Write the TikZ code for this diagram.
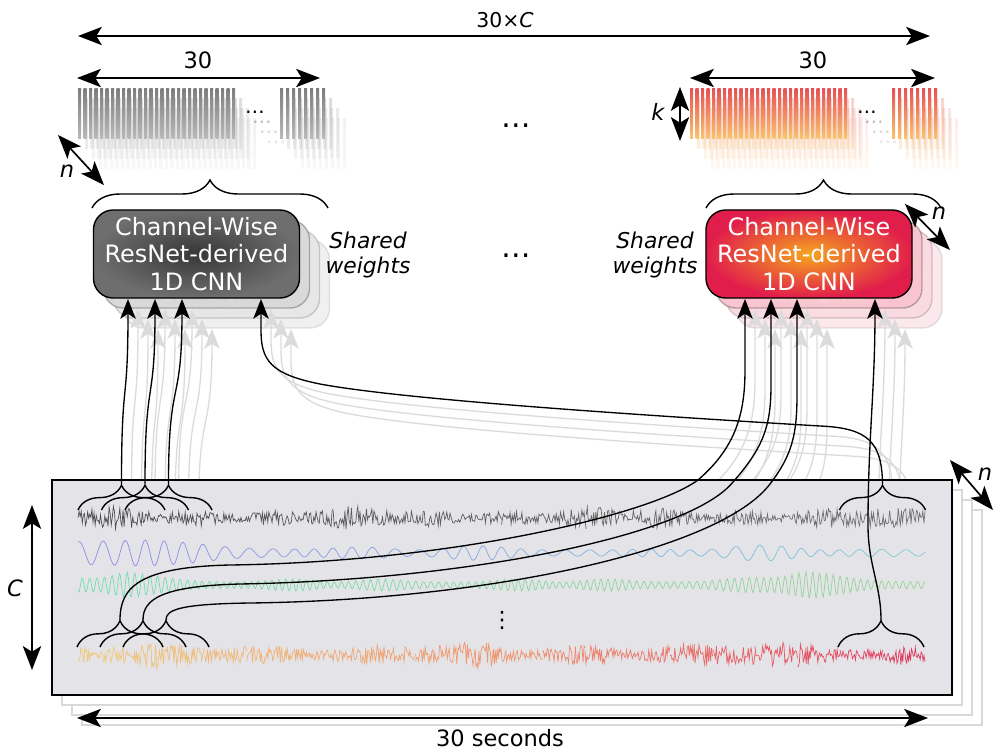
\documentclass[tikz,border=0pt]{standalone}
\usepackage{fontspec}
\setmainfont{DejaVu Sans}[ItalicFont={DejaVu Sans Oblique}]
\usetikzlibrary{arrows.meta,decorations.pathreplacing}
\definecolor{panelbg}{RGB}{228,228,232}
\definecolor{cnnred}{RGB}{225,30,75}
\definecolor{cnnorg}{RGB}{245,165,30}
\definecolor{cnndark}{RGB}{55,55,55}
\definecolor{cnngray}{RGB}{110,110,110}
\definecolor{barred}{RGB}{230,80,85}
\definecolor{barorg}{RGB}{248,195,110}
\definecolor{bardark}{RGB}{125,125,125}
\definecolor{barlight}{RGB}{185,185,185}
\definecolor{siggray}{RGB}{80,80,80}
\definecolor{siggrey}{RGB}{115,115,115}
\definecolor{sigblue}{RGB}{140,140,232}
\definecolor{sigteal}{RGB}{125,200,212}
\definecolor{sigmint}{RGB}{110,222,172}
\definecolor{siggreen}{RGB}{150,212,145}
\definecolor{sigyel}{RGB}{240,200,125}
\definecolor{sigorg}{RGB}{240,150,110}
\definecolor{sigred}{RGB}{225,55,95}
\tikzset{
  dim/.style={{Stealth[length=17pt,width=13pt,inset=4pt]}-{Stealth[length=17pt,width=13pt,inset=4pt]},line width=1.2pt},
  feed/.style={-{Stealth[length=14pt,width=11pt,inset=3.5pt]},line width=.95pt},
  ghost/.style={feed,draw=gray!28},
  brc/.style={decorate,decoration={brace,amplitude=#1},line width=1pt},
  cnnbox/.style={rounded corners=14pt,minimum width=5.15cm,minimum height=2.2cm,align=center,
    text=white,font=\fontsize{17}{19.6}\selectfont,draw=black,line width=1pt},
  lbl/.style={font=\fontsize{16}{19}\selectfont},
  var/.style={font=\itshape\fontsize{16}{19}\selectfont},
  shr/.style={align=center,font=\itshape\fontsize{15.5}{17.8}\selectfont},
  gap/.style={font=\fontsize{21}{24}\selectfont}
}
\def\bars#1#2#3{%
  \foreach \i in {0,...,28}
    \shade[top color=#1,bottom color=#2] (#3+\i*5.5,88) rectangle ++(3,50);
  \foreach \i in {0,...,7}
    \shade[top color=#1,bottom color=#2] (#3+202+\i*6,88) rectangle ++(3,50);
  \node[font=\fontsize{14}{16}\selectfont] (bdots#3) at (#3+177,112) {…};}
\def\wave#1#2#3#4#5#6{%
  \foreach \s in {0,...,9}{
    \pgfmathsetmacro\mix{100-11.11*\s}
    \pgfmathsetmacro\xa{#3+(#4-#3)*\s/10}
    \pgfmathsetmacro\xb{#3+(#4-#3)*(\s+1)/10}
    \draw[color=#1!\mix!#2,line width=.5pt] plot[domain=\xa:\xb,samples=#5] (\x,{#6});}}
\def\ports#1{%
  \coordinate (tl1#1) at (121.5,484); \coordinate (tl2#1) at (145,484); \coordinate (tl3#1) at (168.5,484);
  \coordinate (tr#1) at (882.5,484);
  \coordinate (bl1#1) at (120,620); \coordinate (bl2#1) at (143,620); \coordinate (bl3#1) at (166,620);
  \coordinate (br#1) at (881,620);
  \coordinate (inL1#1) at (128,299); \coordinate (inL2#1) at (155,299);
  \coordinate (inL3#1) at (182,299); \coordinate (inL4#1) at (261,299);
  \coordinate (inR1#1) at (745,299); \coordinate (inR2#1) at (771,299);
  \coordinate (inR3#1) at (797,299); \coordinate (inR4#1) at (875,299);}
\def\feeds#1#2{%
  \foreach \i in {1,2,3}{\draw[#2] (tl\i#1) .. controls +(0,-110) and +(0,110) .. (inL\i#1);}
  \draw[#2] (tr#1) .. controls (882,442) and (868,428) .. (820,426)
    .. controls (620,414) and (400,399) .. (320,384) .. controls (270,374) and (261,360) .. (261,330) -- (inL4#1);
  \draw[#2] (bl1#1) .. controls (120,588) and (138,567) .. (230,565)
    .. controls (450,562) and (650,515) .. (698,480) .. controls (735,448) and (745,415) .. (745,370) -- (inR1#1);
  \draw[#2] (bl2#1) .. controls (143,600) and (160,586) .. (240,584)
    .. controls (470,580) and (690,535) .. (733,482) .. controls (764,447) and (771,425) .. (771,385) -- (inR2#1);
  \draw[#2] (bl3#1) .. controls (166,610) and (178,604) .. (250,603)
    .. controls (490,600) and (720,550) .. (770,484) .. controls (792,455) and (797,435) .. (797,395) -- (inR3#1);
  \draw[#2] (br#1) .. controls (881,585) and (868,565) .. (868,525)
    .. controls (868,440) and (875,390) .. (inR4#1);}
\def\cnn#1#2#3#4#5{%
  \node[cnnbox,fill=white,draw=none] (#1w) at (#2,254) {};
  \node[cnnbox,inner color=#3,outer color=#4,opacity=#5] (#1) at (#2,254) {Channel-Wise\\ResNet-derived\\1D CNN};}

\begin{document}
\begin{tikzpicture}[x=0.025cm,y=-0.025cm]
\useasboundingbox (0,0) rectangle (996,751);
\pgfmathsetseed{5}
\foreach \j/\op in {3/.1,2/.16,1/.26}{
  \begin{scope}[shift={(7*\j,10*\j)},opacity=\op]
    \bars{bardark}{barlight}{78}
    \bars{barred}{barorg}{690}
  \end{scope}
  \begin{scope}[shift={(10*\j,10*\j)}]
    \draw[fill=white,draw=gray!30,line width=.8pt] (52,480) rectangle (952,695);
    \ports{\j}
    \feeds{\j}{ghost}
    \cnn{cnnL\j}{196.5}{cnndark}{cnngray}{\op}
    \cnn{cnnR\j}{809}{cnnorg}{cnnred}{\op}
  \end{scope}
}

\draw[fill=panelbg,line width=1.3pt] (52,480) rectangle (952,695);
\wave{siggray}{siggrey}{78}{925}{80}{518+(4+4*sin(\x*2.3)^2+4*sin(\x*0.7+20)^4)*rand}
\wave{sigblue}{sigteal}{78}{925}{55}{553+(3+10/(1+((\x-140)/50)^2)+5*sin(\x*1.3)^2*sin(\x*0.55+30)^2)*sin(mod(\x,360)*17+60*sin(\x*2.2))}
\wave{sigmint}{siggreen}{78}{925}{85}{585+(3+9/(1+((\x-125)/22)^2)+9/(1+((\x-805)/28)^2)+5*sin(\x*1.6)^2*sin(\x*0.8)^2)*sin(mod(\x,36)*50+120*sin(\x*1.3))}
\wave{sigyel}{sigorg}{78}{500}{45}{655+(5+5*sin(\x*1.7)^2+4*sin(\x*0.6)^4)*rand}
\wave{sigorg}{sigred}{500}{925}{45}{655+(5+5*sin(\x*1.7)^2+4*sin(\x*0.6)^4)*rand}
\node[lbl] (vdots) at (502,620) {⋮};

\foreach \a in {78,101.5,125} \draw[brc=0.62cm] (\a,510) -- ++(87,0);
\draw[brc=0.62cm] (839.5,510) -- ++(86,0);
\foreach \a in {77,100,123} \draw[brc=0.66cm] (\a,647) -- ++(86,0);
\draw[brc=0.66cm] (838,647) -- ++(86,0);
\ports{0}

\bars{bardark}{barlight}{78}
\bars{barred}{barorg}{690}
\cnn{cnnL}{196.5}{cnndark}{cnngray}{1}
\cnn{cnnR}{809}{cnnorg}{cnnred}{1}
\draw[brc=0.7cm] (92,208) -- (328,208);
\draw[brc=0.7cm] (706,208) -- (941,208);

\node[shr] (shareL) at (368,255) {Shared\\weights};
\node[shr] (shareR) at (655,255) {Shared\\weights};
\node[gap] (gapTop) at (516,126) {…};
\node[gap] (gapMid) at (516,256) {…};

\node[font=\fontsize{14.5}{17}\selectfont] (totW) at (505,20) {30×\textit{C}};
\draw[dim] (78,36) coordinate (tw0) -- (930,36) coordinate (tw1);
\node[lbl] (winL) at (198,60) {30};
\draw[dim] (77,78) coordinate (wl0) -- (320,78) coordinate (wl1);
\node[lbl] (winR) at (813,60) {30};
\draw[dim] (690,78) coordinate (wr0) -- (935,78) coordinate (wr1);
\node[var] (kk) at (658,112) {k};
\draw[dim] (680,87) coordinate (k0) -- (680,141) coordinate (k1);
\node[var] (nBars) at (67,171) {n};
\draw[dim] (58,135) coordinate (nb0) -- (104,185) coordinate (nb1);
\node[var] (nBox) at (939,213) {n};
\draw[dim] (905,204) coordinate (nx0) -- (950,250) coordinate (nx1);
\node[var] (nPanel) at (985,474) {n};
\draw[dim] (950,460) coordinate (np0) -- (993,510) coordinate (np1);
\node[var] (cc) at (15,588) {C};
\draw[dim] (32,505) coordinate (c0) -- (32,670) coordinate (c1);
\node[lbl] (secs) at (500,738) {30 seconds};
\draw[dim] (77,718) coordinate (s0) -- (928,718) coordinate (s1);

\feeds{0}{feed}
\end{tikzpicture}
\end{document}
